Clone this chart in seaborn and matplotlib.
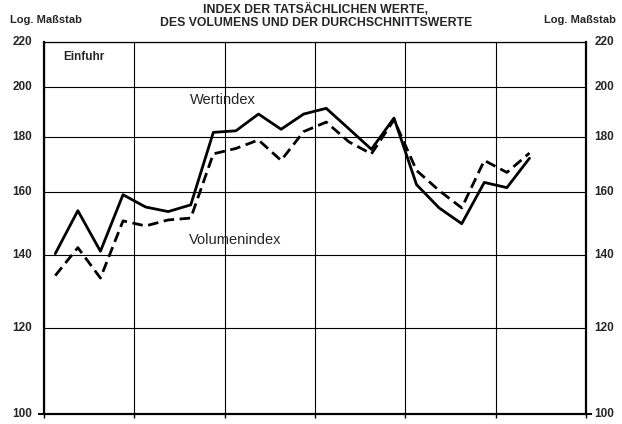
import matplotlib
matplotlib.use("Agg")
import matplotlib.pyplot as plt
from matplotlib.ticker import FixedLocator, NullFormatter
import pandas as pd
import seaborn as sns

# quarterly index values (6 years, 22 quarters shown)
wertindex = [140.4, 153.8, 141.1, 159.1, 155.0, 153.5, 155.7, 181.6, 182.2, 188.8, 182.8,
             188.8, 191.1, 183.0, 175.2, 187.2, 162.5, 154.7, 149.6, 163.3, 161.5, 171.9]
volumenindex = [134.0, 142.2, 133.3, 150.5, 148.9, 150.8, 151.4, 173.5, 175.5, 178.7, 171.1,
                181.9, 185.6, 178.0, 173.5, 186.5, 167.5, 160.5, 154.7, 171.1, 166.8, 173.8]
quarter = [q + 0.5 for q in range(len(wertindex))]
y_ticks = [100, 120, 140, 160, 180, 200, 220]

df = pd.DataFrame({
    "Quartal": quarter * 2,
    "Index": wertindex + volumenindex,
    "Reihe": ["Wertindex"] * len(wertindex) + ["Volumenindex"] * len(volumenindex),
})

sns.set_style("white")
plt.rcParams["font.family"] = ["Liberation Sans", "DejaVu Sans"]

fig = plt.figure(figsize=(6.22, 4.24), dpi=100)
ax = fig.add_axes([0.0707, 0.0236, 0.8713, 0.8774])

sns.lineplot(data=df, x="Quartal", y="Index", style="Reihe",
             style_order=["Wertindex", "Volumenindex"],
             dashes={"Wertindex": "", "Volumenindex": (3.8, 2.0)},
             color="black", linewidth=2.0, legend=False, ax=ax)

ax.set_yscale("log")
ax.set_ylim(99.9, 220)
ax.set_xlim(0, 24)
# 100 gets a real tick that sticks out; the other values only carry grid lines
ax.yaxis.set_major_locator(FixedLocator(y_ticks[:1]))
ax.yaxis.set_minor_locator(FixedLocator(y_ticks[1:]))
ax.yaxis.set_major_formatter(NullFormatter())
ax.yaxis.set_minor_formatter(NullFormatter())
ax.set_xticks(range(0, 25, 4))
ax.set_xticklabels([])
ax.set_xlabel("")
ax.set_ylabel("")
ax.tick_params(axis="x", direction="out", length=3, width=1, color="black", bottom=True)
ax.tick_params(axis="y", which="minor", length=0, left=True, right=True)
ax.tick_params(axis="y", which="major", direction="out", length=4.5, width=1.4, color="black",
               left=True, right=True)

ax.grid(True, axis="x", color="black", linewidth=0.8)
ax.grid(True, axis="y", which="minor", color="black", linewidth=0.8)
for s in ["left", "right", "bottom"]:
    ax.spines[s].set_linewidth(1.6)
    ax.spines[s].set_color("black")
ax.spines["top"].set_linewidth(0.9)
ax.spines["top"].set_color("black")

for v in y_ticks:
    ax.text(-0.022, v, str(v), transform=ax.get_yaxis_transform(), ha="right", va="center",
            fontsize=8.5, fontweight="bold")
    ax.text(1.016, v, str(v), transform=ax.get_yaxis_transform(), ha="left", va="center",
            fontsize=8.5, fontweight="bold")

fig.text(0.016, 0.952, "Log. Maßstab", ha="left", va="center", fontsize=8, fontweight="bold")
fig.text(0.99, 0.952, "Log. Maßstab", ha="right", va="center", fontsize=8, fontweight="bold")
fig.text(0.508, 0.962, "INDEX DER TATSÄCHLICHEN WERTE,\nDES VOLUMENS UND DER DURCHSCHNITTSWERTE",
         ha="center", va="center", fontsize=8.8, fontweight="bold", linespacing=1.05)

ax.text(0.85, 213, "Einfuhr", ha="left", va="center", fontsize=8.5, fontweight="bold")
ax.text(6.47, 194.5, "Wertindex", ha="left", va="center", fontsize=10.5)
ax.text(6.4, 144.6, "Volumenindex", ha="left", va="center", fontsize=10.5)

fig.savefig("out.png", dpi=100)
